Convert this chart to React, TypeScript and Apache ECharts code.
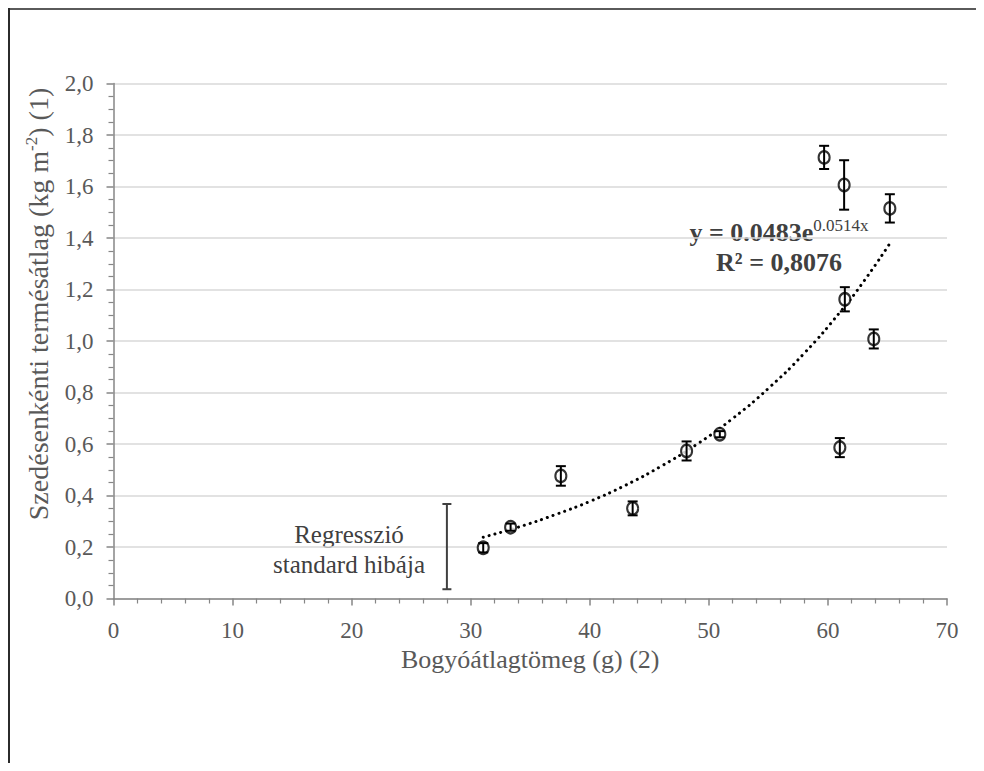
import React, { useEffect, useRef } from "react";
import * as echarts from "echarts";

// Measured points (berry mean weight, yield mean, standard error)
const pointX = [31.05, 33.35, 37.57, 43.6, 48.13, 50.92, 61.0, 59.68, 61.36, 65.2, 61.42, 63.85];
const pointY = [0.197, 0.277, 0.476, 0.35, 0.573, 0.638, 0.586, 1.713, 1.606, 1.515, 1.162, 1.008];
const pointErr = [0.018, 0.014, 0.038, 0.027, 0.037, 0.012, 0.037, 0.045, 0.096, 0.055, 0.047, 0.037];

// Dotted exponential trend line
const trendX = [31.05, 34, 37, 40, 43, 46, 49, 52, 55, 58, 61, 63, 65.2];
const trendY = [0.238, 0.277, 0.324, 0.377, 0.44, 0.514, 0.599, 0.699, 0.816, 0.952, 1.111, 1.231, 1.379];

// Regression standard error bar
const seBarX = [28.0];
const seBarLow = [0.036];
const seBarHigh = [0.367];

const xTicks = { min: 0, max: 70, interval: 10 };
const yTicks = { min: 0, max: 2, interval: 0.2 };

const xTitle = "Bogyóátlagtömeg (g) (2)";
const yTitleMain = "Szedésenkénti termésátlag (kg m";
const yTitleSup = "-2";
const yTitleEnd = ") (1)";
const eqMain = "y = 0.0483e";
const eqSup = "0.0514x";
const r2Text = "R² = 0,8076";
const seLabel1 = "Regresszió";
const seLabel2 = "standard hibája";

const FONT = "Liberation Serif";

export default function App() {
  const ref = useRef<HTMLDivElement>(null);
  useEffect(() => {
    if (!ref.current) return;
    document.documentElement.style.overflow = "hidden";
    const chart = echarts.init(ref.current, undefined, { renderer: "svg" });
    const axisGray = "#868686";
    const labelColor = "#595959";
    const textDark = "#404040";
    const errRender = (color: string, lowHigh: boolean) => (params: any, api: any) => {
      const x = api.value(0);
      let lo: number, hi: number;
      if (lowHigh) {
        lo = api.value(1);
        hi = api.value(2);
      } else {
        const y = api.value(1);
        const e = api.value(2);
        lo = y - e;
        hi = y + e;
      }
      const top = api.coord([x, hi]);
      const bot = api.coord([x, lo]);
      const hw = lowHigh ? 4.5 : 5;
      const st = { stroke: color, lineWidth: 2 };
      return {
        type: "group",
        children: [
          { type: "line", shape: { x1: top[0], y1: top[1], x2: bot[0], y2: bot[1] }, style: st },
          { type: "line", shape: { x1: top[0] - hw, y1: top[1], x2: top[0] + hw, y2: top[1] }, style: st },
          { type: "line", shape: { x1: bot[0] - hw, y1: bot[1], x2: bot[0] + hw, y2: bot[1] }, style: st },
        ],
      };
    };

    chart.setOption({
      animation: false,
      textStyle: { fontFamily: FONT },
      grid: { left: 113.5, top: 83.5, right: 37, bottom: 771 - 598.5, containLabel: false },
      xAxis: {
        type: "value",
        min: xTicks.min,
        max: xTicks.max,
        interval: xTicks.interval,
        name: "{t|" + xTitle + "}",
        nameLocation: "middle",
        nameGap: 48,
        nameTextStyle: {
          rich: { t: { fontFamily: FONT, fontSize: 26, color: labelColor } },
        },
        axisLine: { show: true, onZero: false, lineStyle: { color: axisGray, width: 1.5 } },
        axisTick: { show: true, length: 7, lineStyle: { color: axisGray, width: 1.5 } },
        minorTick: { show: true, splitNumber: 5, length: 5, lineStyle: { color: axisGray, width: 1.2 } },
        axisLabel: {
          margin: 20,
          formatter: (v: number) => "{a|" + String(v) + "}",
          rich: { a: { fontFamily: FONT, fontSize: 23, color: labelColor } },
        },
        splitLine: { show: false },
      },
      yAxis: {
        type: "value",
        min: yTicks.min,
        max: yTicks.max,
        interval: yTicks.interval,
        axisLine: { show: true, onZero: false, lineStyle: { color: axisGray, width: 1.5 } },
        axisTick: { show: true, length: 7, lineStyle: { color: axisGray, width: 1.5 } },
        minorTick: { show: true, splitNumber: 4, length: 5, lineStyle: { color: axisGray, width: 1.2 } },
        axisLabel: {
          margin: 20,
          formatter: (v: number) => "{a|" + v.toFixed(1).replace(".", ",") + "}",
          rich: { a: { fontFamily: FONT, fontSize: 23, color: labelColor } },
        },
        splitLine: { show: true, lineStyle: { color: "#d9d9d9", width: 1.5 } },
      },
      series: [
        {
          type: "line",
          data: trendX.map((x, i) => [x, trendY[i]]),
          smooth: true,
          showSymbol: false,
          symbol: "none",
          lineStyle: { color: "#000", width: 3, type: [0.1, 6], cap: "round" },
          z: 1,
        },
        {
          type: "scatter",
          data: pointX.map((x, i) => [x, pointY[i]]),
          symbol: "circle",
          symbolSize: [11, 12.5],
          itemStyle: { color: "#fff", borderColor: "#000", borderWidth: 2.2 },
          z: 2,
        },
        {
          type: "custom",
          data: pointX.map((x, i) => [x, pointY[i], pointErr[i]]),
          encode: { x: 0, y: 1 },
          renderItem: errRender("#000", false),
          z: 3,
        },
        {
          type: "custom",
          data: seBarX.map((x, i) => [x, seBarLow[i], seBarHigh[i]]),
          encode: { x: 0, y: [1, 2] },
          renderItem: errRender(textDark, true),
          z: 3,
        },
      ],
      graphic: [
        // frame of the picture (top and left edges)
        { type: "line", shape: { x1: 8, y1: 9, x2: 984, y2: 9 }, style: { stroke: "#5a5a5a", lineWidth: 2 } },
        { type: "line", shape: { x1: 9, y1: 8, x2: 9, y2: 771 }, style: { stroke: "#2b2b2b", lineWidth: 2 } },
        {
          type: "text",
          x: 38,
          y: 304,
          rotation: Math.PI / 2,
          style: {
            text: "{n|" + yTitleMain + "}{s|" + yTitleSup + "}{n|" + yTitleEnd + "}",
            align: "center",
            verticalAlign: "middle",
            rich: {
              n: { fontFamily: FONT, fontSize: 28, fill: labelColor, lineHeight: 30 },
              s: { fontFamily: FONT, fontSize: 17, fill: labelColor, verticalAlign: "top", lineHeight: 30 },
            },
          },
        },
        {
          type: "text",
          x: 779,
          y: 232,
          style: {
            text: "{b|" + eqMain + "}{s|" + eqSup + "}",
            align: "center",
            verticalAlign: "middle",
            rich: {
              b: { fontFamily: FONT, fontSize: 26, fontWeight: "bold", fill: textDark, lineHeight: 30 },
              s: { fontFamily: FONT, fontSize: 17, fill: textDark, verticalAlign: "top", lineHeight: 30 },
            },
          },
        },
        {
          type: "text",
          x: 779,
          y: 262,
          style: {
            text: "{b|" + r2Text + "}",
            align: "center",
            verticalAlign: "middle",
            rich: {
              b: { fontFamily: FONT, fontSize: 26, fontWeight: "bold", fill: textDark },
            },
          },
        },
        {
          type: "text",
          x: 349,
          y: 549,
          style: {
            text: "{r|" + seLabel1 + "}\n{r|" + seLabel2 + "}",
            align: "center",
            verticalAlign: "middle",
            rich: {
              r: { fontFamily: FONT, fontSize: 25, lineHeight: 30, fill: textDark },
            },
          },
        },
      ],
    });
    return () => chart.dispose();
  }, []);

  return <div ref={ref} style={{ margin: -8, width: 984, height: 771 }} />;
}
